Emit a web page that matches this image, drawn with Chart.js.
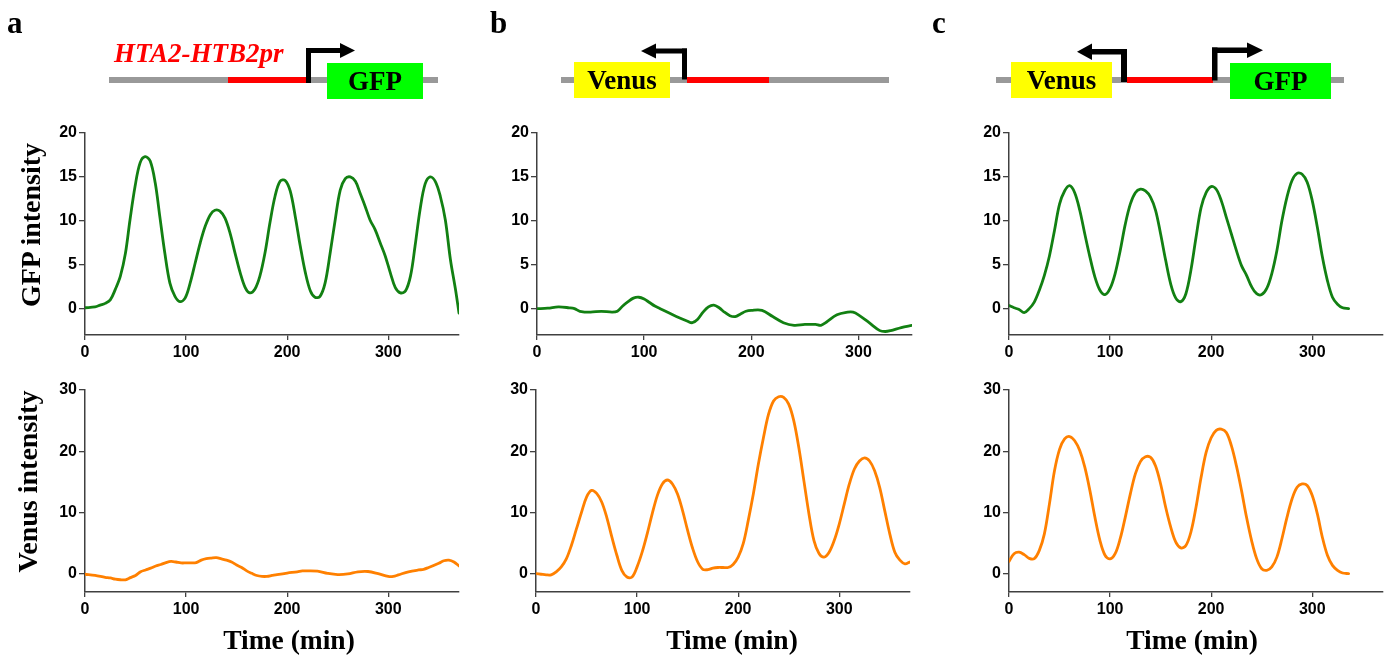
<!DOCTYPE html>
<html><head><meta charset="utf-8">
<script src="https://cdn.jsdelivr.net/npm/chart.js@4.4.1/dist/chart.umd.min.js"></script>
<style>
html,body{margin:0;padding:0;background:#fff;}
#wrap{position:relative;width:1391px;height:657px;overflow:hidden;background:#fff;}
canvas{position:absolute;}
svg{position:absolute;left:0;top:0;pointer-events:none;}
</style></head><body>
<div id="wrap">
<canvas id="aTop"></canvas>
<canvas id="bTop"></canvas>
<canvas id="cTop"></canvas>
<canvas id="aBot"></canvas>
<canvas id="bBot"></canvas>
<canvas id="cBot"></canvas>
<svg width="1391" height="657" xmlns="http://www.w3.org/2000/svg">
<g font-family="'Liberation Serif','Times New Roman',serif" font-weight="bold" fill="#000">
<text x="7" y="33" font-size="31">a</text>
<text x="490" y="33" font-size="31">b</text>
<text x="932" y="33" font-size="31">c</text>

<rect x="109" y="77" width="329" height="6" fill="#999"/>
<rect x="228" y="77" width="83" height="6" fill="#f00"/>
<rect x="306" y="48" width="5" height="35" fill="#000"/>
<rect x="306" y="48" width="35" height="5" fill="#000"/>
<polygon points="340,43 355,50.5 340,58" fill="#000"/>
<rect x="327" y="63" width="96" height="36" fill="#0f0"/>
<text x="375" y="90" font-size="27" text-anchor="middle">GFP</text>
<text x="114" y="62" font-size="27" font-style="italic" fill="#f00">HTA2-HTB2pr</text>

<rect x="561" y="77" width="328" height="6" fill="#999"/>
<rect x="687" y="77" width="82" height="6" fill="#f00"/>
<rect x="574" y="62" width="96" height="36" fill="#ff0"/>
<text x="622" y="89" font-size="27" text-anchor="middle">Venus</text>
<rect x="682" y="48.5" width="5" height="31" fill="#000"/>
<rect x="655" y="48.5" width="32" height="5" fill="#000"/>
<polygon points="656,43.5 641,51 656,58.5" fill="#000"/>

<rect x="996" y="77" width="348" height="6" fill="#999"/>
<rect x="1127" y="77" width="86" height="6" fill="#f00"/>
<rect x="1011" y="62" width="101" height="36" fill="#ff0"/>
<text x="1061.5" y="89" font-size="27" text-anchor="middle">Venus</text>
<rect x="1230" y="63" width="101" height="36" fill="#0f0"/>
<text x="1280.5" y="90" font-size="27" text-anchor="middle">GFP</text>
<rect x="1121" y="49" width="6" height="33" fill="#000"/>
<rect x="1091" y="49" width="36" height="5.5" fill="#000"/>
<polygon points="1092,43.5 1077,51.75 1092,60" fill="#000"/>
<rect x="1212" y="47.5" width="5.5" height="33" fill="#000"/>
<rect x="1212" y="47.5" width="36" height="5.5" fill="#000"/>
<polygon points="1247,42.5 1263,50.25 1247,58" fill="#000"/>

<text transform="translate(40,225) rotate(-90)" font-size="28" text-anchor="middle">GFP intensity</text>
<text transform="translate(37,481.5) rotate(-90)" font-size="28" text-anchor="middle">Venus intensity</text>
<text x="289" y="649" font-size="27.5" text-anchor="middle">Time (min)</text>
<text x="732" y="649" font-size="27.5" text-anchor="middle">Time (min)</text>
<text x="1192" y="649" font-size="27.5" text-anchor="middle">Time (min)</text>
</g>
</svg>
</div>
<script>
// ---- data (time in min, intensity) ----
const aGfpTime = [0,10,15,20,25,30,35,40,44.5,49.5,54.5,59.5,64.5,69.5,74,79,84,89,94,99,104,109,114,119,124,128.5,133.5,138.5,143.5,148.5,153.5,158.5,163,168,173,178,183,188,193,198,203,208,213,218,223,227.5,232.5,237.5,242.5,247.5,252.5,257.5,262.5,267.5,272,277,282,287,292,297,302,307,312,317,322,326.5,331.5,336.5,341.5,346.5,351.5,356.5,361.5,366.5,370];
const aGfpVal  = [0.1,0.2,0.4,0.6,1.0,2.2,3.7,6.3,10.1,13.9,16.6,17.3,16.8,14.3,10.5,6.3,2.9,1.4,0.8,1.2,2.9,5.2,7.5,9.4,10.7,11.2,11.1,10.3,8.6,6.3,4.1,2.4,1.8,2.2,3.7,6.3,9.8,12.8,14.5,14.6,13.4,10.5,7.1,4.1,2.0,1.3,1.4,2.9,6.3,10.1,13.5,14.8,15.0,14.5,13.2,11.7,10.1,9.0,7.5,6.0,4.1,2.4,1.8,2.0,3.7,7.1,11.3,14.2,15.0,14.5,12.8,10.1,5.6,2.2,-0.5];

const bGfpTime = [0,10,20,30,35,40,50,60,70,75,80,85,90,95,100,105,110,115,120,130,140,145,150,155,160,165,170,175,180,185,190,195,200,210,220,230,240,250,260,265,270,280,290,295,300,310,320,325,330,340,350];
const bGfpVal  = [0,0.05,0.2,0.1,0,-0.3,-0.4,-0.3,-0.4,-0.3,0.3,0.8,1.2,1.3,1.1,0.7,0.3,0,-0.3,-0.9,-1.4,-1.6,-1.2,-0.4,0.2,0.4,0.1,-0.4,-0.8,-0.9,-0.6,-0.3,-0.2,-0.2,-0.9,-1.6,-1.9,-1.8,-1.8,-1.9,-1.55,-0.7,-0.4,-0.4,-0.7,-1.6,-2.5,-2.6,-2.5,-2.15,-1.9];

const cGfpTime = [0,5,10,15,20,25,30,35,40,45,50,55,60,65,70,75,80,85,90,95,100,105,110,115,120,125,130,135,140,145,150,155,160,165,170,175,180,185,190,195,200,205,210,215,220,225,230,235,240,245,250,255,260,265,270,275,280,285,290,295,300,305,310,315,320,325,330,336];
const cGfpVal  = [0.35,0.1,-0.1,-0.45,0,0.75,2.1,3.8,6.0,8.9,11.9,13.4,14.0,13.2,11.2,8.5,5.9,3.6,2.1,1.6,2.3,4.0,6.6,9.6,11.9,13.2,13.6,13.4,12.7,11.2,8.5,5.5,2.8,1.2,0.8,1.7,4.4,8.1,11.5,13.2,13.9,13.6,12.3,10.4,8.5,6.6,4.9,3.8,2.5,1.7,1.6,2.3,4.0,6.6,10.0,12.7,14.6,15.4,15.3,14.4,12.3,9.3,5.9,3.2,1.3,0.5,0.1,0];

const aVenusTime = [0,10,20,25,30,35,40,45,50,55,60,65,70,75,80,85,90,95,100,105,110,115,120,125,130,135,140,145,150,155,160,165,170,175,180,185,190,200,210,215,220,230,240,250,260,270,280,290,300,305,310,320,330,335,340,350,355,360,365,370];
const aVenusVal  = [-0.1,-0.3,-0.6,-0.7,-0.9,-1.0,-1.0,-0.65,-0.3,0.3,0.6,0.9,1.25,1.5,1.8,2.0,1.9,1.75,1.75,1.75,1.8,2.2,2.45,2.55,2.6,2.4,2.2,1.9,1.4,1.0,0.45,0.05,-0.3,-0.45,-0.45,-0.3,-0.15,0.1,0.3,0.45,0.45,0.4,0.05,-0.15,-0.05,0.3,0.35,0,-0.45,-0.45,-0.2,0.3,0.6,0.7,1.0,1.7,2.1,2.2,1.9,1.25];

const bVenusTime = [0,5,10,15,20,25,30,35,40,45,50,55,60,65,70,75,80,85,90,95,100,105,110,115,120,125,130,135,140,145,150,155,160,165,170,175,180,185,190,195,200,205,210,215,220,225,230,235,240,245,250,255,260,265,270,275,280,285,290,295,300,305,310,315,320,325,330,335,340,345,350,355,360,365,370];
const bVenusVal  = [0,-0.1,-0.2,-0.2,0.3,1.1,2.4,4.6,7.3,10.0,12.5,13.6,13.1,11.7,9.2,6.0,3.0,0.5,-0.55,-0.55,1.1,3.5,6.5,9.8,12.75,14.65,15.3,14.65,13.0,10.3,7.05,4.1,1.9,0.7,0.65,0.9,1.0,1.0,1.0,1.5,2.7,4.9,8.7,13.0,17.9,22.2,26.0,28.2,28.9,28.8,27.7,25.0,20.6,15.2,9.8,5.4,3.3,2.7,3.5,5.4,8.1,11.4,14.65,17.1,18.4,18.9,18.4,16.8,14.1,10.3,6.5,3.5,2.2,1.6,1.9];

const cVenusTime = [0,5,10,15,20,25,30,35,40,45,50,55,60,65,70,75,80,85,90,95,100,105,110,115,120,125,130,135,140,145,150,155,160,165,170,175,180,185,190,195,200,205,210,215,220,225,230,235,240,245,250,255,260,265,270,275,280,285,290,295,300,305,310,315,320,325,330,336];
const cVenusVal  = [2.0,3.25,3.5,3.1,2.5,2.45,3.8,6.5,11.4,16.8,20.3,22.0,22.4,21.7,20.1,17.4,13.6,9.2,5.4,3.0,2.4,3.25,5.7,9.2,13.0,16.3,18.3,19.1,19.0,17.6,14.65,10.85,7.6,5.15,4.2,4.6,6.8,10.85,15.7,19.8,22.2,23.4,23.6,23.06,20.9,17.6,13.6,9.2,5.4,2.45,0.8,0.55,1.1,2.7,5.7,9.2,12.2,14.1,14.65,14.4,12.75,9.8,5.95,3.0,1.35,0.55,0.1,0];

const xTickStep = 100;
const gfpAxis = {min: -3, max: 20, step: 5};
const venusAxis = {min: -3, max: 30, step: 10};

const GREEN = '#128012';
const ORANGE = '#ff8000';
const AXIS = '#404040';
const tickFont = {family: "'Liberation Sans', Arial, sans-serif", size: 16, weight: 'bold'};

function makeChart(id, box, times, vals, color, yAx, xMax) {
  const cv = document.getElementById(id);
  cv.width = box.w; cv.height = box.h;
  cv.style.left = box.x + 'px'; cv.style.top = box.y + 'px';
  cv.style.width = box.w + 'px'; cv.style.height = box.h + 'px';
  new Chart(cv, {
    type: 'line',
    data: {datasets: [{
      data: times.map((t, i) => ({x: t, y: vals[i]})),
      borderColor: color, borderWidth: 2.8, pointRadius: 0,
      tension: 0.35, fill: false,
      borderCapStyle: 'round', borderJoinStyle: 'round'
    }]},
    options: {
      responsive: false, animation: false, events: [],
      devicePixelRatio: 1,
      layout: {padding: {top: box.pt, right: box.pr, bottom: 0, left: 0}},
      plugins: {legend: {display: false}, tooltip: {enabled: false}},
      scales: {
        x: {
          type: 'linear', min: 0, max: xMax,
          ticks: {stepSize: xTickStep, includeBounds: false, font: tickFont, color: '#000', padding: 3, maxRotation: 0, autoSkip: false},
          grid: {drawOnChartArea: false, drawTicks: true, tickLength: 5, color: AXIS, lineWidth: 1.3},
          border: {color: AXIS, width: 1.5},
          afterFit(s) { s.height = 25; s.paddingLeft = 0; s.paddingRight = 0; }
        },
        y: {
          min: yAx.min, max: yAx.max,
          ticks: {stepSize: yAx.step, includeBounds: false, font: tickFont, color: '#000', padding: 2, autoSkip: false},
          grid: {drawOnChartArea: false, drawTicks: true, tickLength: 6, color: AXIS, lineWidth: 1.3},
          border: {color: AXIS, width: 1.5},
          afterFit(s) { s.width = box.wy; s.paddingTop = 0; s.paddingBottom = 0; }
        }
      }
    }
  });
}

makeChart('aTop', {x: 40, y: 118, w: 427, h: 242, wy: 45, pt: 15, pr: 8}, aGfpTime, aGfpVal, GREEN, gfpAxis, 370);
makeChart('bTop', {x: 495, y: 118, w: 425, h: 242, wy: 42, pt: 15, pr: 8}, bGfpTime, bGfpVal, GREEN, gfpAxis, 350);
makeChart('cTop', {x: 967, y: 118, w: 422, h: 242, wy: 42, pt: 15, pr: 6}, cGfpTime, cGfpVal, GREEN, gfpAxis, 370);
makeChart('aBot', {x: 40, y: 375, w: 427, h: 242, wy: 45, pt: 15, pr: 8}, aVenusTime, aVenusVal, ORANGE, venusAxis, 370);
makeChart('bBot', {x: 494, y: 375, w: 424, h: 242, wy: 42, pt: 15, pr: 8}, bVenusTime, bVenusVal, ORANGE, venusAxis, 370);
makeChart('cBot', {x: 967, y: 375, w: 422, h: 242, wy: 42, pt: 15, pr: 6}, cVenusTime, cVenusVal, ORANGE, venusAxis, 370);
</script>
</body></html>
